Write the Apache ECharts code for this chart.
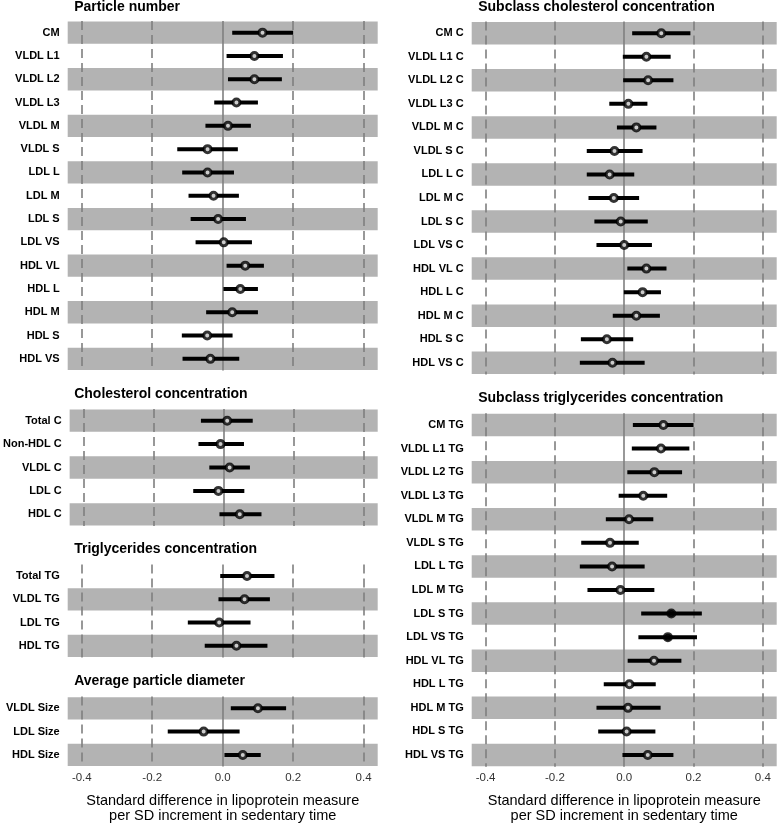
<!DOCTYPE html>
<html>
<head>
<meta charset="utf-8">
<script src="https://cdn.jsdelivr.net/npm/echarts@6/dist/echarts.min.js"></script>
<style>
html,body{margin:0;padding:0;background:#fff;}
#chart{width:777px;height:825px;}
</style>
</head>
<body>
<div id="chart"></div>
<script>
// ---------- data ----------
const xTicks = [-0.4, -0.2, 0, 0.2, 0.4];
const xMin = -0.44, xMax = 0.44;
const axisTitle = 'Standard difference in lipoprotein measure\nper SD increment in sedentary time';

const particleTitle = 'Particle number';
const particleNames = ['CM','VLDL L1','VLDL L2','VLDL L3','VLDL M','VLDL S','LDL L','LDL M','LDL S','LDL VS','HDL VL','HDL L','HDL M','HDL S','HDL VS'];
const particleEst = [0.113, 0.090, 0.090, 0.039, 0.015, -0.043, -0.043, -0.026, -0.013, 0.003, 0.064, 0.050, 0.027, -0.044, -0.035];
const particleLo  = [0.027, 0.011, 0.015, -0.024, -0.049, -0.129, -0.115, -0.097, -0.091, -0.077, 0.011, 0.002, -0.047, -0.116, -0.114];
const particleHi  = [0.200, 0.171, 0.168, 0.100, 0.080, 0.043, 0.032, 0.046, 0.066, 0.083, 0.117, 0.100, 0.100, 0.028, 0.047];
const particleSig = [0,0,0,0,0,0,0,0,0,0,0,0,0,0,0];

const cholTitle = 'Cholesterol concentration';
const cholNames = ['Total C','Non-HDL C','VLDL C','LDL C','HDL C'];
const cholEst = [0.010, -0.009, 0.017, -0.015, 0.046];
const cholLo  = [-0.065, -0.072, -0.041, -0.087, -0.012];
const cholHi  = [0.083, 0.058, 0.075, 0.059, 0.108];
const cholSig = [0,0,0,0,0];

const tgTitle = 'Triglycerides concentration';
const tgNames = ['Total TG','VLDL TG','LDL TG','HDL TG'];
const tgEst = [0.069, 0.062, -0.010, 0.039];
const tgLo  = [-0.007, -0.012, -0.099, -0.051];
const tgHi  = [0.147, 0.134, 0.079, 0.127];
const tgSig = [0,0,0,0];

const diamTitle = 'Average particle diameter';
const diamNames = ['VLDL Size','LDL Size','HDL Size'];
const diamEst = [0.100, -0.054, 0.057];
const diamLo  = [0.023, -0.156, 0.005];
const diamHi  = [0.180, 0.048, 0.108];
const diamSig = [0,0,0];

const subCTitle = 'Subclass cholesterol concentration';
const subCNames = ['CM C','VLDL L1 C','VLDL L2 C','VLDL L3 C','VLDL M C','VLDL S C','LDL L C','LDL M C','LDL S C','LDL VS C','HDL VL C','HDL L C','HDL M C','HDL S C','HDL VS C'];
const subCEst = [0.107, 0.064, 0.069, 0.012, 0.035, -0.028, -0.042, -0.030, -0.010, 0.000, 0.064, 0.053, 0.035, -0.050, -0.034];
const subCLo  = [0.023, -0.004, -0.003, -0.043, -0.021, -0.108, -0.108, -0.103, -0.086, -0.080, 0.009, -0.001, -0.033, -0.125, -0.128];
const subCHi  = [0.191, 0.134, 0.142, 0.067, 0.093, 0.053, 0.029, 0.043, 0.068, 0.080, 0.122, 0.106, 0.103, 0.026, 0.059];
const subCSig = [0,0,0,0,0,0,0,0,0,0,0,0,0,0,0];

const subTGTitle = 'Subclass triglycerides concentration';
const subTGNames = ['CM TG','VLDL L1 TG','VLDL L2 TG','VLDL L3 TG','VLDL M TG','VLDL S TG','LDL L TG','LDL M TG','LDL S TG','LDL VS TG','HDL VL TG','HDL L TG','HDL M TG','HDL S TG','HDL VS TG'];
const subTGEst = [0.113, 0.106, 0.087, 0.055, 0.014, -0.041, -0.035, -0.011, 0.136, 0.126, 0.086, 0.015, 0.011, 0.007, 0.068];
const subTGLo  = [0.025, 0.022, 0.009, -0.016, -0.053, -0.124, -0.128, -0.106, 0.049, 0.041, 0.010, -0.059, -0.080, -0.075, -0.005];
const subTGHi  = [0.200, 0.188, 0.167, 0.124, 0.084, 0.042, 0.059, 0.087, 0.224, 0.210, 0.165, 0.091, 0.105, 0.090, 0.142];
const subTGSig = [0,0,0,0,0,0,0,0,1,1,0,0,0,0,0];

// ---------- layout ----------
const FONT = '"Liberation Sans", Arial, Helvetica, sans-serif';
const colL = {left: 67.7, width: 310};
const colR = {left: 471.7, width: 305};
const panels = [
  {title: particleTitle, names: particleNames, est: particleEst, lo: particleLo, hi: particleHi, sig: particleSig, col: colL, top: 21, height: 349.5, titleY: 7, labels: false},
  {title: cholTitle, names: cholNames, est: cholEst, lo: cholLo, hi: cholHi, sig: cholSig, col: colL, top: 409, height: 117, titleY: 394, labels: false},
  {title: tgTitle, names: tgNames, est: tgEst, lo: tgLo, hi: tgHi, sig: tgSig, col: colL, top: 564.4, height: 93, titleY: 549, labels: false},
  {title: diamTitle, names: diamNames, est: diamEst, lo: diamLo, hi: diamHi, sig: diamSig, col: colL, top: 696.6, height: 70, titleY: 681, labels: true},
  {title: subCTitle, names: subCNames, est: subCEst, lo: subCLo, hi: subCHi, sig: subCSig, col: colR, top: 21.5, height: 353, titleY: 7, labels: false},
  {title: subTGTitle, names: subTGNames, est: subTGEst, lo: subTGLo, hi: subTGHi, sig: subTGSig, col: colR, top: 413.2, height: 353.6, titleY: 398.3, labels: true}
];

const grids = [], xAxes = [], yAxes = [], series = [], graphics = [];

panels.forEach((p, k) => {
  grids.push({left: p.col.left, top: p.top, width: p.col.width, height: p.height, containLabel: false});
  xAxes.push({
    type: 'value', gridIndex: k, min: xMin, max: xMax,
    axisLine: {show: false}, axisTick: {show: false}, splitLine: {show: false},
    axisLabel: {
      show: p.labels, customValues: xTicks, margin: 5,
      fontFamily: FONT, fontSize: 11.5, color: '#333',
      formatter: v => (v < 0 ? '-' : '') + Math.abs(v).toFixed(1)
    }
  });
  yAxes.push({
    type: 'category', gridIndex: k, data: p.names, inverse: true,
    axisLine: {show: false}, axisTick: {show: false}, splitLine: {show: false},
    axisLabel: {fontFamily: FONT, fontSize: 11, fontWeight: 'bold', color: '#000', margin: 8}
  });
  const n = p.names.length;
  // bands on odd rows counted from the bottom
  const bandData = p.names.filter((nm, i) => (n - 1 - i) % 2 === 0).map(nm => [xMin, xMax, nm]);
  series.push({
    type: 'custom', xAxisIndex: k, yAxisIndex: k, z: 1, silent: true,
    encode: {x: [0, 1], y: 2},
    data: bandData,
    renderItem: (params, api) => {
      const a = api.coord([api.value(0), api.value(2)]);
      const b = api.coord([api.value(1), api.value(2)]);
      const h = api.size([0, 1])[1] * 0.955;
      return {type: 'rect', shape: {x: a[0], y: a[1] - h / 2, width: b[0] - a[0], height: h}, style: {fill: '#b3b3b3'}};
    }
  });
  // confidence intervals
  series.push({
    type: 'custom', xAxisIndex: k, yAxisIndex: k, z: 3, silent: true,
    encode: {x: [0, 1], y: 2},
    data: p.names.map((nm, i) => [p.lo[i], p.hi[i], nm]),
    renderItem: (params, api) => {
      const a = api.coord([api.value(0), api.value(2)]);
      const b = api.coord([api.value(1), api.value(2)]);
      return {type: 'line', shape: {x1: a[0], y1: a[1], x2: b[0], y2: b[1]}, style: {stroke: '#000', lineWidth: 4, lineCap: 'butt'}};
    }
  });
  // point estimates + reference lines
  series.push({
    type: 'scatter', xAxisIndex: k, yAxisIndex: k, z: 4, silent: true,
    symbol: 'circle', symbolSize: 7,
    data: p.names.map((nm, i) => ({
      value: [p.est[i], nm],
      itemStyle: {color: p.sig[i] ? '#000' : '#fff', borderColor: '#000', borderWidth: 3}
    })),
    markLine: {
      silent: true, symbol: 'none', z: 2, animation: false,
      label: {show: false},
      emphasis: {disabled: true},
      data: xTicks.map(v => ({
        xAxis: v,
        lineStyle: v === 0 ? {type: 'solid', color: '#7f7f7f', width: 1.6} : {type: [9, 5], color: '#7f7f7f', width: 1.6}
      }))
    }
  });
  graphics.push({
    type: 'text', x: p.col.left + 6.5, y: p.titleY,
    style: {text: p.title, fontFamily: FONT, fontSize: 14, fontWeight: 'bold', fill: '#000', textVerticalAlign: 'middle', textAlign: 'left'}
  });
  if (p.labels) {
    graphics.push({
      type: 'text', x: p.col.left + p.col.width / 2, y: 808.5,
      style: {text: axisTitle, fontFamily: FONT, fontSize: 14.5, lineHeight: 14.3, fill: '#000', textAlign: 'center', textVerticalAlign: 'middle'}
    });
  }
});

const chart = echarts.init(document.getElementById('chart'), null, {renderer: 'canvas'});
chart.setOption({
  animation: false,
  backgroundColor: '#fff',
  grid: grids, xAxis: xAxes, yAxis: yAxes, series: series,
  graphic: graphics
});
</script>
</body>
</html>
